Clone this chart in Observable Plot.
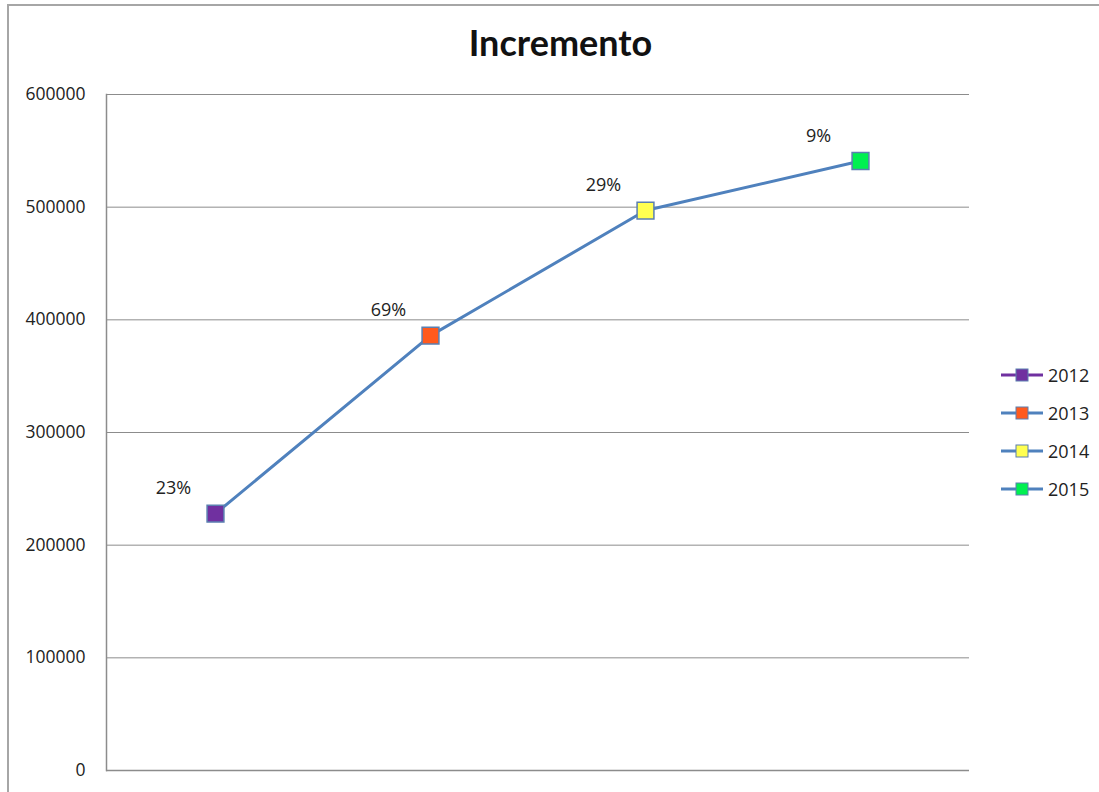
<!DOCTYPE html>
<html><head><meta charset="utf-8">
<script src="https://cdn.jsdelivr.net/npm/d3@7"></script>
<script src="https://cdn.jsdelivr.net/npm/@observablehq/plot@0.6"></script>
<style>
body{margin:0;background:#fff;font-family:"Open Sans",sans-serif;}
#wrap{position:relative;width:1099px;height:792px;overflow:hidden;background:#fff;}
#frame{position:absolute;left:7px;top:4px;width:1200px;height:900px;border:2px solid #a6a6a6;box-sizing:border-box;pointer-events:none;}
#title{height:70px;box-sizing:border-box;padding-top:20px;padding-left:22px;text-align:center;font-family:Lato,"Open Sans",sans-serif;font-weight:bold;font-size:36px;line-height:44px;color:#111;}
#legend{position:absolute;left:1000px;top:356px;font-size:18px;color:#222;}
.item{display:flex;align-items:center;height:38px;}
.item svg{margin-right:4px;}
#chart svg{display:block;}
</style></head>
<body>
<div id="wrap">
  <div id="title">Incremento</div>
  <div id="chart"></div>
  <div id="legend"></div>
  <div id="frame"></div>
</div>
<script>
const years = ["2012", "2013", "2014", "2015"];
const values = [228000, 386000, 497000, 541000];
const increments = ["23%", "69%", "29%", "9%"];
const markerColors = ["#7030A0", "#FF5A1E", "#FFFF50", "#00F050"];
const yTicks = [0, 100000, 200000, 300000, 400000, 500000, 600000];

const lineColor = "#4F81BD";
const data = years.map((y, i) => ({year: y, value: values[i], label: increments[i], color: markerColors[i]}));

const plot = Plot.plot({
  width: 1099,
  height: 722,
  marginLeft: 106,
  marginRight: 130,
  marginTop: 24,
  marginBottom: 22,
  style: {fontFamily: "'Open Sans', sans-serif", fontSize: "17px", color: "#222", background: "#fff"},
  x: {type: "point", domain: years, padding: 0.5, axis: null},
  y: {domain: [0, 600000], ticks: yTicks, label: null, axis: null},
  marks: [
    Plot.gridY(yTicks, {stroke: "#8c8c8c", strokeOpacity: 1, strokeWidth: 1}),
    Plot.ruleY([0], {stroke: "#8c8c8c", strokeWidth: 1.5}),
    Plot.frame({anchor: "left", stroke: "#8c8c8c", strokeWidth: 1.5}),
    Plot.axisY(yTicks, {tickSize: 0, tickPadding: 21, tickFormat: d => String(d), fill: "#222", fontSize: 17.5, label: null}),
    Plot.line(data, {x: "year", y: "value", stroke: lineColor, strokeWidth: 3}),
    Plot.dot(data, {x: "year", y: "value", symbol: "square", r: 9.5, fill: "color", stroke: "#5b7fb0", strokeWidth: 1.5}),
    Plot.text(data, {x: "year", y: "value", text: "label", dx: -42, dy: -25, fontSize: 18, fill: "#222"})
  ]
});
document.getElementById("chart").append(plot);

const legend = document.getElementById("legend");
years.forEach((y, i) => {
  const item = document.createElement("div");
  item.className = "item";
  const lc = i === 0 ? "#7030A0" : lineColor;
  item.innerHTML = `<svg width="44" height="16"><line x1="1" x2="43" y1="8" y2="8" stroke="${lc}" stroke-width="3"/><rect x="16" y="2" width="12" height="12" fill="${markerColors[i]}" stroke="#5b7fb0" stroke-width="1"/></svg><span>${y}</span>`;
  legend.append(item);
});
</script>
</body></html>
